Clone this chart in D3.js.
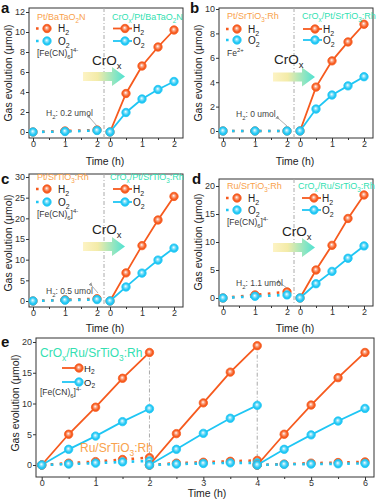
<!DOCTYPE html>
<html><head><meta charset="utf-8">
<script src="https://cdn.jsdelivr.net/npm/d3@7"></script>
<style>body{margin:0;background:#fff}svg{display:block}</style>
</head><body>
<script>
// ---------------- DATA ----------------
const timeBase = [0, 1, 2];
const timeCycle = [0, 0.5, 1, 1.5, 2];

const aBaseH2 = [0, 0.1, 0.2];
const aBaseO2 = [0, 0.05, 0.15];
const aCrH2 = [0, 3.85, 6.6, 8.5, 10.2];
const aCrO2 = [0, 1.95, 3.3, 4.25, 5.05];
const aYTicks = [0, 2, 4, 6, 8, 10, 12];

const bBaseH2 = [0, 0, 0];
const bBaseO2 = [0, 0, 0];
const bCrH2 = [0, 3.6, 5.75, 7.3, 8.75];
const bCrO2 = [0, 1.8, 2.95, 3.7, 4.45];
const bYTicks = [0, 2, 4, 6, 8, 10];

const cBaseH2 = [0, 0.3, 0.55];
const cBaseO2 = [0, 0.2, 0.35];
const cCrH2 = [0, 6.8, 13.4, 19.6, 25.3];
const cCrO2 = [0, 3.4, 6.75, 9.9, 12.8];
const cYTicks = [0, 5, 10, 15, 20, 25, 30];

const dBaseH2 = [0, 0.55, 1.1];
const dBaseO2 = [0, 0.3, 0.55];
const dCrH2 = [0, 5.0, 9.4, 14.2, 18.4];
const dCrO2 = [0, 2.55, 4.75, 7.1, 9.3];
const dYTicks = [0, 5, 10, 15, 20];

const eCycleStart = [0, 2, 4];
const eCrH2 = [[0, 5.0, 9.4, 14.1, 18.3], [0, 5.1, 10.1, 15.1, 19.4], [0, 5.0, 9.75, 14.2, 18.3]];
const eCrO2 = [[0, 2.55, 4.7, 7.05, 9.15], [0, 2.55, 5.15, 7.6, 9.7], [0, 2.55, 4.9, 7.15, 9.2]];
const eBaseH2 = [[0, 0.3, 0.55, 0.9, 1.2], [0, 0.3, 0.45, 0.6, 0.75], [0, 0.15, 0.3, 0.4, 0.5]];
const eBaseO2 = [[0, 0.15, 0.3, 0.5, 0.65], [0, 0.15, 0.25, 0.35, 0.35], [0, 0.1, 0.15, 0.2, 0.25]];
const eXTicks = [0, 1, 2, 3, 4, 5, 6];
const eYTicks = [0, 5, 10, 15, 20];

// ---------------- STYLE ----------------
const ORANGE = "#F65A1E", CYAN = "#1FC6F4", PEACH = "#F9A24C", TEAL = "#33DFB2", INK = "#333";
const FONT = "'Liberation Sans', Arial, sans-serif";

const svg = d3.select("body").append("svg").attr("width", 379).attr("height", 500)
  .style("font-family", FONT);
const defs = svg.append("defs");
function ballGrad(id, c) {
  const g = defs.append("radialGradient").attr("id", id).attr("cx", "50%").attr("cy", "50%").attr("r", "50%").attr("fx", "45%").attr("fy", "40%");
  g.append("stop").attr("offset", "0%").attr("stop-color", "#fff");
  g.append("stop").attr("offset", "35%").attr("stop-color", d3.interpolateRgb("#fff", c)(0.55));
  g.append("stop").attr("offset", "75%").attr("stop-color", c);
}
ballGrad("gO", ORANGE); ballGrad("gC", CYAN);
const ag = defs.append("linearGradient").attr("id", "arrowG").attr("x1", "0").attr("x2", "1");
ag.append("stop").attr("offset", "0%").attr("stop-color", "#FDF3C4");
ag.append("stop").attr("offset", "35%").attr("stop-color", "#F3EBA8");
ag.append("stop").attr("offset", "100%").attr("stop-color", "#4FE2D2");
defs.append("marker").attr("id", "ah").attr("viewBox", "0 0 6 6").attr("refX", 1).attr("refY", 3)
  .attr("markerWidth", 5).attr("markerHeight", 5).attr("orient", "auto-start-reverse")
  .append("path").attr("d", "M6,0 L0,3 L6,6 Z").attr("fill", "#999");

function rich(sel, str, fs) {
  const re = /([_^])(\{([^}]*)\}|(.))/g;
  let last = 0, m, shift = 0;
  const add = (t, dy, small) => {
    const s = sel.append("tspan").text(t);
    if (dy) s.attr("dy", dy);
    s.attr("font-size", small ? fs * 0.7 : fs);
  };
  while ((m = re.exec(str))) {
    if (m.index > last) { add(str.slice(last, m.index), -shift); shift = 0; }
    const t = m[3] !== undefined ? m[3] : m[4];
    const s = m[1] === "_" ? fs * 0.3 : -fs * 0.42;
    add(t, s - shift, true); shift = s;
    last = re.lastIndex;
  }
  if (last < str.length) add(str.slice(last), -shift);
}
function txt(x, y, str, fs, color, anchor) {
  const t = svg.append("text").attr("x", x).attr("y", y).attr("font-size", fs).attr("fill", color || INK)
    .attr("text-anchor", anchor || "start");
  rich(t, str, fs);
  return t;
}
function ball(g, x, y, c) {
  g.append("circle").attr("cx", x).attr("cy", y).attr("r", 4.2)
    .attr("fill", c === ORANGE ? "url(#gO)" : "url(#gC)").attr("stroke", c).attr("stroke-width", 0.8);
}
const DOT = "2.6,6.4";
function series(g, xs, ys, x, y, c, dotted) {
  const line = d3.line().x((d, i) => x(xs[i])).y(d => y(d));
  g.append("path").datum(ys).attr("d", line).attr("fill", "none").attr("stroke", c)
    .attr("stroke-width", dotted ? 2.6 : 1.8).attr("stroke-dasharray", dotted ? DOT : null);
}
function styleAxis(g) {
  g.select(".domain").remove();
  g.selectAll(".tick line").attr("stroke", INK);
  g.selectAll(".tick text").attr("fill", INK).attr("font-size", 9).attr("font-family", FONT);
}
function yTitle(x, y) {
  svg.append("text").attr("transform", `translate(${x},${y}) rotate(-90)`).attr("text-anchor", "middle")
    .attr("font-size", 10.5).attr("fill", "#222").text("Gas evolution (\u03bcmol)");
}
function xTitle(x, y) {
  svg.append("text").attr("x", x).attr("y", y).attr("text-anchor", "middle").attr("font-size", 10.5).attr("fill", "#222").text("Time (h)");
}
function panelLabel(x, y, s) {
  svg.append("text").attr("x", x).attr("y", y).attr("font-size", 15).attr("font-weight", "bold").attr("fill", "#111").text(s);
}

// ---------------- SMALL PANELS ----------------
function small(p) {
  const L = p.L, R = p.L + 154;
  const g = svg.append("g");
  const y = d3.scaleLinear().domain([0, d3.max(p.yTicks)]).range([p.y0, p.yTop]);
  const xL = d3.scaleLinear().domain([0, 2]).range([L + 4, L + 68]);
  const xR = d3.scaleLinear().domain([0, 2]).range([L + 81, L + 145]);
  g.append("g").attr("transform", `translate(${L},0)`)
    .call(d3.axisLeft(y).tickValues(p.yTicks).tickSize(3).tickPadding(1)).call(styleAxis);
  [xL, xR].forEach(xs => {
    g.append("g").attr("transform", `translate(0,${p.B})`)
      .call(d3.axisBottom(xs).tickValues(timeBase).tickSize(3).tickPadding(0).tickFormat(d3.format("d"))).call(styleAxis);
    g.append("g").attr("transform", `translate(0,${p.B})`)
      .call(d3.axisBottom(xs).tickValues([0.5, 1.5]).tickSize(2).tickFormat("")).call(styleAxis);
  });
  g.append("rect").attr("x", L).attr("y", p.T).attr("width", R - L).attr("height", p.B - p.T)
    .attr("fill", "none").attr("stroke", INK).attr("stroke-width", 1);
  g.append("line").attr("x1", L + 75).attr("x2", L + 75).attr("y1", p.T).attr("y2", p.B)
    .attr("stroke", "#aaa").attr("stroke-dasharray", "4,2,1,2").attr("stroke-width", 1);
  series(g, timeBase, p.baseH2, xL, y, ORANGE, true);
  series(g, timeBase, p.baseO2, xL, y, CYAN, true);
  series(g, timeCycle, p.crH2, xR, y, ORANGE, false);
  series(g, timeCycle, p.crO2, xR, y, CYAN, false);
  p.baseH2.forEach((v, i) => ball(g, xL(timeBase[i]), y(v), ORANGE));
  p.baseO2.forEach((v, i) => ball(g, xL(timeBase[i]), y(v), CYAN));
  p.crH2.forEach((v, i) => ball(g, xR(timeCycle[i]), y(v), ORANGE));
  p.crO2.forEach((v, i) => ball(g, xR(timeCycle[i]), y(v), CYAN));
  const ly = p.legY;
  txt(L + 8, ly[0] + 3.2, p.leftTitle, 9, PEACH);
  txt(L + p.rtx, ly[0] + 3.2, p.rightTitle, 9, TEAL);
  [[ORANGE, "H_2", ly[1]], [CYAN, "O_2", ly[2]]].forEach(([c, s, yy]) => {
    g.append("line").attr("x1", L + 7).attr("x2", L + 17).attr("y1", yy).attr("y2", yy)
      .attr("stroke", c).attr("stroke-width", 2.6).attr("stroke-dasharray", DOT);
    ball(g, L + 18, yy, c);
    txt(L + 29, yy + 3.5, s, 10, "#222");
    g.append("line").attr("x1", L + p.rlx).attr("x2", L + p.rlx + 19).attr("y1", yy).attr("y2", yy)
      .attr("stroke", c).attr("stroke-width", 1.8);
    ball(g, L + p.rlx + 12, yy, c);
    txt(L + p.rlx + 20, yy + 3.5, s, 10, "#222");
  });
  txt(L + 8, ly[3] + 3, p.reagent, 8.5, "#333");
  const ax = L + 54, ay = p.arrowY;
  g.append("path").attr("d", `M${ax},${ay - 4.5} L${ax + 29},${ay - 4.5} L${ax + 29},${ay - 9.5} L${ax + 42},${ay} L${ax + 29},${ay + 9.5} L${ax + 29},${ay + 4.5} L${ax},${ay + 4.5} Z`)
    .attr("fill", "url(#arrowG)");
  txt(L + p.crX, p.crY, "CrO_x", 13.5, "#222");
  txt(L + 17, p.anno[1], p.anno[0], 8.5, "#444");
  g.append("line").attr("x1", p.annoArrow[0]).attr("y1", p.annoArrow[1]).attr("x2", p.annoArrow[2]).attr("y2", p.annoArrow[3])
    .attr("stroke", "#999").attr("stroke-width", 0.8).attr("marker-end", "url(#ah)");
  xTitle(L + 76, p.xtY);
  yTitle(L - 17, p.ytY);
  panelLabel(L + p.lab[0], p.lab[1], p.label);
}

small({ L: 29, T: 8, B: 138, y0: 132, yTop: 12, yTicks: aYTicks, baseH2: aBaseH2, baseO2: aBaseO2, crH2: aCrH2, crO2: aCrO2,
  leftTitle: "Pt/BaTaO_2N", rightTitle: "CrO_x/Pt/BaTaO_2N", reagent: "[Fe(CN)_6]^{4-}", legY: [17, 28.5, 41, 53], rlx: 84, rtx: 83,
  arrowY: 76.5, crX: 63, crY: 65, anno: ["H_2: 0.2 umol", 116], annoArrow: [97, 126, 90, 118], xtY: 165, ytY: 73, lab: [-28, 13], label: "a" });
small({ L: 219, T: 8, B: 138, y0: 131, yTop: 9, yTicks: bYTicks, baseH2: bBaseH2, baseO2: bBaseO2, crH2: bCrH2, crO2: bCrO2,
  leftTitle: "Pt/SrTiO_3:Rh", rightTitle: "CrO_x/Pt/SrTiO_3:Rh", reagent: "Fe^{2+}", legY: [16, 29, 40, 53], rlx: 84, rtx: 83,
  arrowY: 77, crX: 55, crY: 64, anno: ["H_2: 0 umol", 117], annoArrow: [287, 126, 279, 119], xtY: 165, ytY: 73, lab: [-29, 13], label: "b" });
small({ L: 29, T: 174, B: 307, y0: 301, yTop: 177, yTicks: cYTicks, baseH2: cBaseH2, baseO2: cBaseO2, crH2: cCrH2, crO2: cCrO2,
  leftTitle: "Pt/SrTiO_3:Rh", rightTitle: "CrO_x/Pt/SrTiO_3:Rh", reagent: "[Fe(CN)_6]^{4-}", legY: [177, 189, 202, 214], rlx: 84, rtx: 81,
  arrowY: 246.5, crX: 63, crY: 234, anno: ["H_2: 0.5 umol", 294], annoArrow: [98, 293, 92, 286], xtY: 332, ytY: 243, lab: [-28, 184], label: "c" });
small({ L: 219, T: 179, B: 306, y0: 298, yTop: 186, yTicks: dYTicks, baseH2: dBaseH2, baseO2: dBaseO2, crH2: dCrH2, crO2: dCrO2,
  leftTitle: "Ru/SrTiO_3:Rh", rightTitle: "CrO_x/Ru/SrTiO_3:Rh", reagent: "[Fe(CN)_6]^{4-}", legY: [186, 198, 210, 222], rlx: 83, rtx: 79,
  arrowY: 247.5, crX: 63, crY: 236, anno: ["H_2: 1.1 umol", 286], annoArrow: [287, 288, 280, 283], xtY: 332, ytY: 242, lab: [-27, 184], label: "d" });

// ---------------- PANEL e ----------------
(function () {
  const L = 36, R = 374, T = 338, B = 477;
  const g = svg.append("g");
  const x = d3.scaleLinear().domain([0, 6]).range([41.7, 365]);
  const y = d3.scaleLinear().domain([0, 20]).range([465, 342]);
  g.append("g").attr("transform", `translate(${L},0)`)
    .call(d3.axisLeft(y).tickValues(eYTicks).tickSize(3).tickPadding(1)).call(styleAxis);
  g.append("g").attr("transform", `translate(0,${B})`)
    .call(d3.axisBottom(x).tickValues(eXTicks).tickSize(3).tickPadding(0).tickFormat(d3.format("d"))).call(styleAxis);
  g.append("g").attr("transform", `translate(0,${B})`)
    .call(d3.axisBottom(x).tickValues([0.5, 1.5, 2.5, 3.5, 4.5, 5.5]).tickSize(2).tickFormat("")).call(styleAxis);
  g.append("rect").attr("x", L).attr("y", T).attr("width", R - L).attr("height", B - T)
    .attr("fill", "none").attr("stroke", INK);
  [0, 1].forEach(k => {
    const xx = x(eCycleStart[k + 1]);
    g.append("line").attr("x1", xx).attr("x2", xx).attr("y1", y(eCrH2[k][4])).attr("y2", y(0))
      .attr("stroke", "#aaa").attr("stroke-dasharray", "4,2,1,2");
  });
  eCycleStart.forEach((s, k) => {
    const ts = timeCycle.map(t => t + s);
    series(g, ts, eBaseH2[k], x, y, ORANGE, true);
    series(g, ts, eBaseO2[k], x, y, CYAN, true);
  });
  eCycleStart.forEach((s, k) => {
    const ts = timeCycle.map(t => t + s);
    eBaseH2[k].forEach((v, i) => ball(g, x(ts[i]), y(v), ORANGE));
    eBaseO2[k].forEach((v, i) => ball(g, x(ts[i]), y(v), CYAN));
  });
  eCycleStart.forEach((s, k) => {
    const ts = timeCycle.map(t => t + s);
    series(g, ts, eCrH2[k], x, y, ORANGE, false);
    series(g, ts, eCrO2[k], x, y, CYAN, false);
    eCrH2[k].forEach((v, i) => ball(g, x(ts[i]), y(v), ORANGE));
    eCrO2[k].forEach((v, i) => ball(g, x(ts[i]), y(v), CYAN));
  });
  txt(40, 357, "CrO_x/Ru/SrTiO_3:Rh", 12, TEAL);
  [[ORANGE, "H_2", 368], [CYAN, "O_2", 382]].forEach(([c, s, yy]) => {
    g.append("line").attr("x1", 62).attr("x2", 82).attr("y1", yy).attr("y2", yy).attr("stroke", c).attr("stroke-width", 1.8);
    ball(g, 79, yy, c);
    txt(84, yy + 3.5, s, 9.5, "#222");
  });
  txt(40, 395, "[Fe(CN)_6]^{4-}", 8.5, "#333");
  txt(80, 452, "Ru/SrTiO_3:Rh", 12, PEACH);
  xTitle(207, 497);
  yTitle(19, 403);
  panelLabel(1, 347, "e");
})();
</script>
</body></html>
